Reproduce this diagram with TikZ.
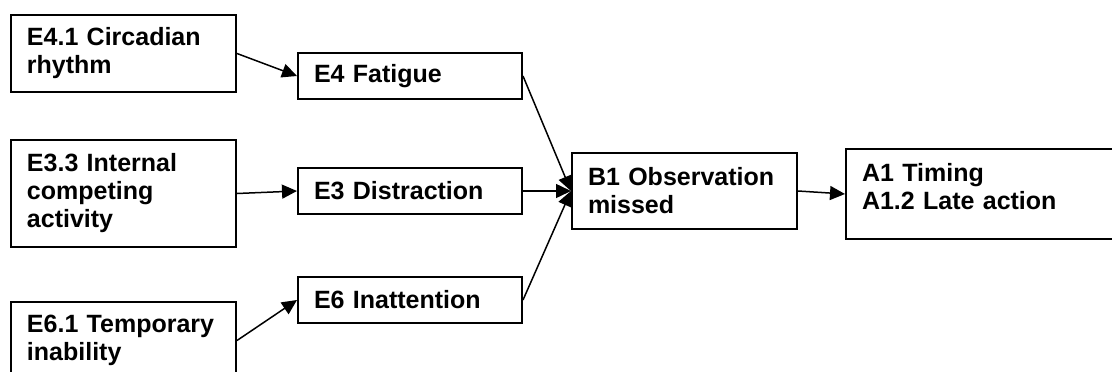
\documentclass[tikz,border=0pt]{standalone}
\usepackage{fontspec}
\setmainfont{Liberation Sans}
\usetikzlibrary{arrows.meta}
\begin{document}
\begin{tikzpicture}[x=1pt, y=-1pt, >={Triangle[length=15pt,width=14pt]}, line width=1.5pt,
  box/.style={draw, rectangle, line width=2pt, inner xsep=16pt, inner ysep=4pt, align=left,
    font=\fontsize{25}{28}\selectfont\bfseries}]
\useasboundingbox (0,0) rectangle (1112,372);
\clip (0,0) rectangle (1112,372);
% causes on the left
\node[box, text width=193pt, minimum height=77pt] (e41) at (123.5,53.5) {E4.1 Circadian\\rhythm};
\node[box, text width=193pt, minimum height=107pt] (e33) at (123.5,193.5) {E3.3 Internal\\competing\\activity};
\node[box, text width=193pt, minimum height=77pt] (e61) at (123.5,340.5) {E6.1 Temporary\\inability};
% general causes
\node[box, text width=192pt, minimum height=46pt] (e4) at (410,76) {E4 Fatigue};
\node[box, text width=192pt, minimum height=46pt] (e3) at (410,191) {E3 Distraction};
\node[box, text width=192pt, minimum height=46pt] (e6) at (410,300) {E6 Inattention};
% effect and error mode
\node[box, text width=193pt, minimum height=76pt] (b1) at (684.5,191) {B1 Observation\\missed};
\node[box, text width=308pt, inner ysep=14pt, text depth=44pt] (a1) at (1016,194) {A1 Timing\\A1.2 Late action};
\draw[->] (e41.east) -- (e4.west);
\draw[->] (e33.east) -- (e3.west);
\draw[->] (e61.east) -- (e6.west);
\draw[->] (e4.east) -- (b1.west);
\draw[->] (e3.east) -- (b1.west);
\draw[->] (e6.east) -- (b1.west);
\draw[->] (b1.east) -- (a1.west);
\end{tikzpicture}
\end{document}
